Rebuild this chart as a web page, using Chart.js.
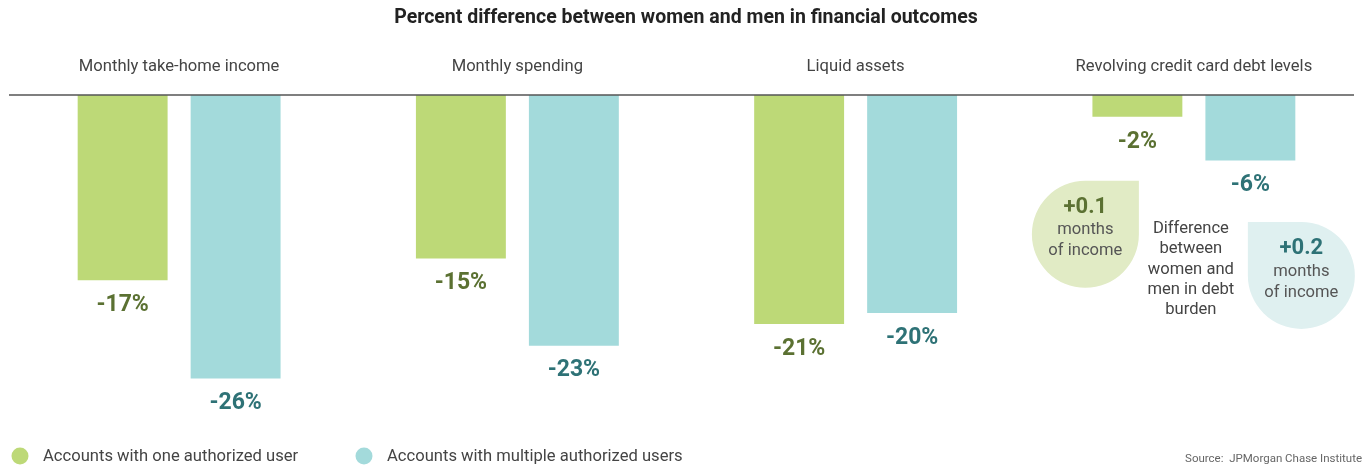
<!DOCTYPE html>
<html lang="en">
<head>
    <meta charset="UTF-8">
    <title>Percent difference between women and men in financial outcomes</title>
    <script src="https://cdn.jsdelivr.net/npm/chart.js"></script>
    <style>
        html, body { margin: 0; padding: 0; background: #fff; }
        #wrap { position: relative; width: 1364px; height: 468px; }
    </style>
</head>
<body>
<div id="wrap">
    <canvas id="chart" width="1364" height="468"></canvas>
</div>
<script>
    // Data
    const categories = ['Monthly take-home income', 'Monthly spending', 'Liquid assets', 'Revolving credit card debt levels'];
    const oneUser = [-17, -15, -21, -2];
    const multiUsers = [-26, -23, -20, -6];
    const seriesNames = ['Accounts with one authorized user', 'Accounts with multiple authorized users'];
    // debt burden difference (months of income), shown as bubbles on the last group
    const debtBurden = ['+0.1', '+0.2'];

    const FONT = 'Roboto, "Open Sans", sans-serif';
    const barColors = ['#bdd977', '#a3dadb'];
    const labelColors = ['#5b7132', '#2e7276'];
    const bubbleColors = ['#e1ebc5', '#dff0f0'];

    // draws title, category names, zero line, value labels, bubbles, legend, source
    const decorations = {
        id: 'decorations',
        afterDraw(chart) {
            const ctx = chart.ctx;
            const x = chart.scales.x;
            const y = chart.scales.y;
            ctx.save();

            // title
            ctx.fillStyle = '#222';
            ctx.font = 'bold 19.5px ' + FONT;
            ctx.textAlign = 'center';
            ctx.textBaseline = 'middle';
            ctx.fillText('Percent difference between women and men in financial outcomes', 686, 18);

            // category names
            ctx.fillStyle = '#444';
            ctx.font = '16.6px ' + FONT;
            categories.forEach((c, i) => ctx.fillText(c, x.getPixelForValue(i), 67));

            // zero line
            const y0 = y.getPixelForValue(0);
            ctx.strokeStyle = '#555';
            ctx.lineWidth = 1.5;
            ctx.beginPath();
            ctx.moveTo(9, y0);
            ctx.lineTo(1354, y0);
            ctx.stroke();

            // value labels under each bar
            ctx.font = 'bold 23px ' + FONT;
            chart.data.datasets.forEach((ds, d) => {
                ctx.fillStyle = labelColors[d];
                chart.getDatasetMeta(d).data.forEach((bar, i) => {
                    ctx.fillText(ds.data[i] + '%', bar.x, bar.y + 25);
                });
            });

            // bubbles for the last category
            const last = categories.length - 1;
            const g = chart.getDatasetMeta(0).data[last];
            const c = chart.getDatasetMeta(1).data[last];
            const r = 53.5;

            // green bubble, square top-right corner
            let cx = g.x - 52, cy = g.y + 117.5;
            ctx.fillStyle = bubbleColors[0];
            ctx.beginPath();
            ctx.moveTo(cx, cy - r);
            ctx.lineTo(cx + r, cy - r);
            ctx.lineTo(cx + r, cy);
            ctx.arc(cx, cy, r, 0, 1.5 * Math.PI);
            ctx.closePath();
            ctx.fill();
            ctx.fillStyle = labelColors[0];
            ctx.font = 'bold 22px ' + FONT;
            ctx.fillText(debtBurden[0], cx, cy - 27);
            ctx.fillStyle = '#555';
            ctx.font = '16.6px ' + FONT;
            ctx.fillText('months', cx, cy - 4);
            ctx.fillText('of income', cx, cy + 17);

            // cyan bubble, square top-left corner
            cx = c.x + 51; cy = c.y + 115;
            ctx.fillStyle = bubbleColors[1];
            ctx.beginPath();
            ctx.moveTo(cx - r, cy - r);
            ctx.lineTo(cx, cy - r);
            ctx.arc(cx, cy, r, -0.5 * Math.PI, Math.PI);
            ctx.closePath();
            ctx.fill();
            ctx.fillStyle = labelColors[1];
            ctx.font = 'bold 22px ' + FONT;
            ctx.fillText(debtBurden[1], cx, cy - 27);
            ctx.fillStyle = '#555';
            ctx.font = '16.6px ' + FONT;
            ctx.fillText('months', cx, cy - 4);
            ctx.fillText('of income', cx, cy + 17);

            // middle note
            ctx.fillStyle = '#444';
            const midX = x.getPixelForValue(last) - 3;
            ['Difference', 'between', 'women and', 'men in debt', 'burden'].forEach((t, i) => {
                ctx.fillText(t, midX, 229 + i * 20.3);
            });

            // legend
            ctx.textAlign = 'left';
            ctx.font = '16.6px ' + FONT;
            const legendX = [20, 364];
            seriesNames.forEach((name, i) => {
                ctx.fillStyle = barColors[i];
                ctx.beginPath();
                ctx.arc(legendX[i], 456, 8.5, 0, 2 * Math.PI);
                ctx.fill();
                ctx.fillStyle = '#444';
                ctx.fillText(name, legendX[i] + 23, 457);
            });

            // source
            ctx.textAlign = 'right';
            ctx.font = '11.5px ' + FONT;
            ctx.fillStyle = '#666';
            ctx.fillText('Source:  JPMorgan Chase Institute', 1362, 459);

            ctx.restore();
        }
    };

    new Chart(document.getElementById('chart'), {
        type: 'bar',
        data: {
            labels: categories,
            datasets: [
                { label: seriesNames[0], data: oneUser, backgroundColor: barColors[0] },
                { label: seriesNames[1], data: multiUsers, backgroundColor: barColors[1] }
            ]
        },
        options: {
            responsive: false,
            animation: false,
            categoryPercentage: 0.668,
            barPercentage: 0.796,
            layout: { padding: { left: 10, right: 1, top: 95, bottom: 46 } },
            scales: {
                x: { display: false },
                y: { display: false, min: -30, max: 0 }
            },
            plugins: {
                legend: { display: false },
                tooltip: { enabled: false }
            }
        },
        plugins: [decorations]
    });
</script>
</body>
</html>
